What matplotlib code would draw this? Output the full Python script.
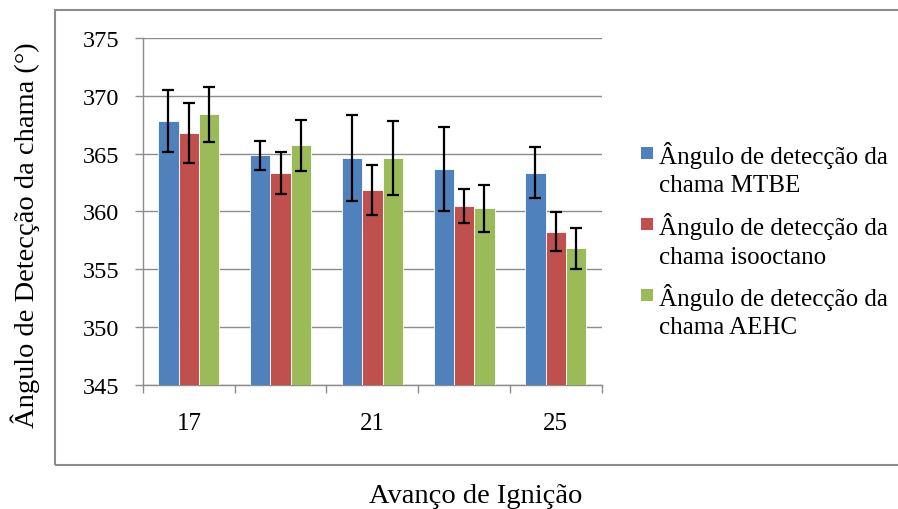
import matplotlib
matplotlib.use("Agg")
import matplotlib.pyplot as plt
import numpy as np
from matplotlib.patches import Rectangle

plt.rcParams['font.family'] = ['Liberation Serif', 'DejaVu Serif']

# Ignition advance groups (only every other label is printed on the axis)
categories = ["17", "19", "21", "23", "25"]
shown_labels = ["17", "", "21", "", "25"]

series_names = [
    "Ângulo de detecção da\nchama MTBE",
    "Ângulo de detecção da\nchama isooctano",
    "Ângulo de detecção da\nchama AEHC",
]
mtbe = [367.8, 364.85, 364.6, 363.65, 363.35]
isooctano = [366.8, 363.3, 361.85, 360.45, 358.25]
aehc = [368.4, 365.7, 364.65, 360.25, 356.8]

mtbe_err = [2.7, 1.25, 3.7, 3.65, 2.2]
isooctano_err = [2.6, 1.8, 2.2, 1.5, 1.7]
aehc_err = [2.4, 2.2, 3.2, 2.05, 1.8]

colors = ["#4F81BD", "#C0504D", "#9BBB59"]
grey = "#8C8C8C"

W, H = 898, 510
fig = plt.figure(figsize=(W / 100, H / 100), dpi=100)
ax = fig.add_axes([143 / W, 1 - 385.7 / H, (601.7 - 143) / W, (385.7 - 39) / H])

x = np.arange(len(categories))
width = 1 / 4.5
values = [mtbe, isooctano, aehc]
errors = [mtbe_err, isooctano_err, aehc_err]
for i, (vals, errs, col) in enumerate(zip(values, errors, colors)):
    pos = x + (i - 1) * width
    ax.bar(pos, np.array(vals) - 345, bottom=345, width=width, color=col,
           edgecolor="white", linewidth=0.6, zorder=3)
    ax.errorbar(pos, vals, yerr=errs, fmt="none", ecolor="black",
                elinewidth=1.6, capsize=4, capthick=1.6, zorder=4)

ax.set_ylim(345, 375)
ax.set_xlim(-0.5, len(categories) - 0.5)
ax.set_yticks(np.arange(345, 376, 5))
ax.yaxis.grid(True, color=grey, linewidth=1.0, zorder=0)
ax.set_axisbelow(True)

ax.set_xticks(x)
ax.set_xticklabels(shown_labels, fontsize=18)
ax.set_xticks(np.arange(-0.5, len(categories), 1), minor=True)
ax.tick_params(axis="x", which="major", length=0, pad=20)
ax.tick_params(axis="x", which="minor", length=6, width=1.0, color=grey, direction="out")
ax.tick_params(axis="y", length=6, width=1.0, color=grey, direction="out",
               labelsize=17.5, pad=11)

for side in ["top", "right"]:
    ax.spines[side].set_visible(False)
for side in ["left", "bottom"]:
    ax.spines[side].set_color(grey)
    ax.spines[side].set_linewidth(1.0)

fig.text(25 / W, 1 - 235 / H, "Ângulo de Detecção da chama (°)", fontsize=20.5,
         rotation=90, ha="center", va="center")
fig.text(476 / W, 1 - 497 / H, "Avanço de Ignição", fontsize=20.5,
         ha="center", va="center")

# Legend: square swatch beside the first line of each two-line label
entry_top = [148, 219, 290]
for name, col, top in zip(series_names, colors, entry_top):
    fig.patches.append(Rectangle((641 / W, 1 - (top + 11.5) / H), 12 / W, 11.5 / H,
                                 transform=fig.transFigure, facecolor=col,
                                 edgecolor="none"))
    for k, line in enumerate(name.split("\n")):
        fig.text(659 / W, 1 - (top + 16 + 28.5 * k) / H, line, fontsize=18,
                 ha="left", va="baseline")

# Outer frame around the chart area
frame = Rectangle((55 / W, 1 - 465.7 / H), (W - 55) / W + 0.01,
                  (465.7 - 10.5) / H, transform=fig.transFigure, fill=False,
                  edgecolor=grey, linewidth=1.5, clip_on=False)
fig.patches.append(frame)

fig.savefig("out.png", dpi=100)
